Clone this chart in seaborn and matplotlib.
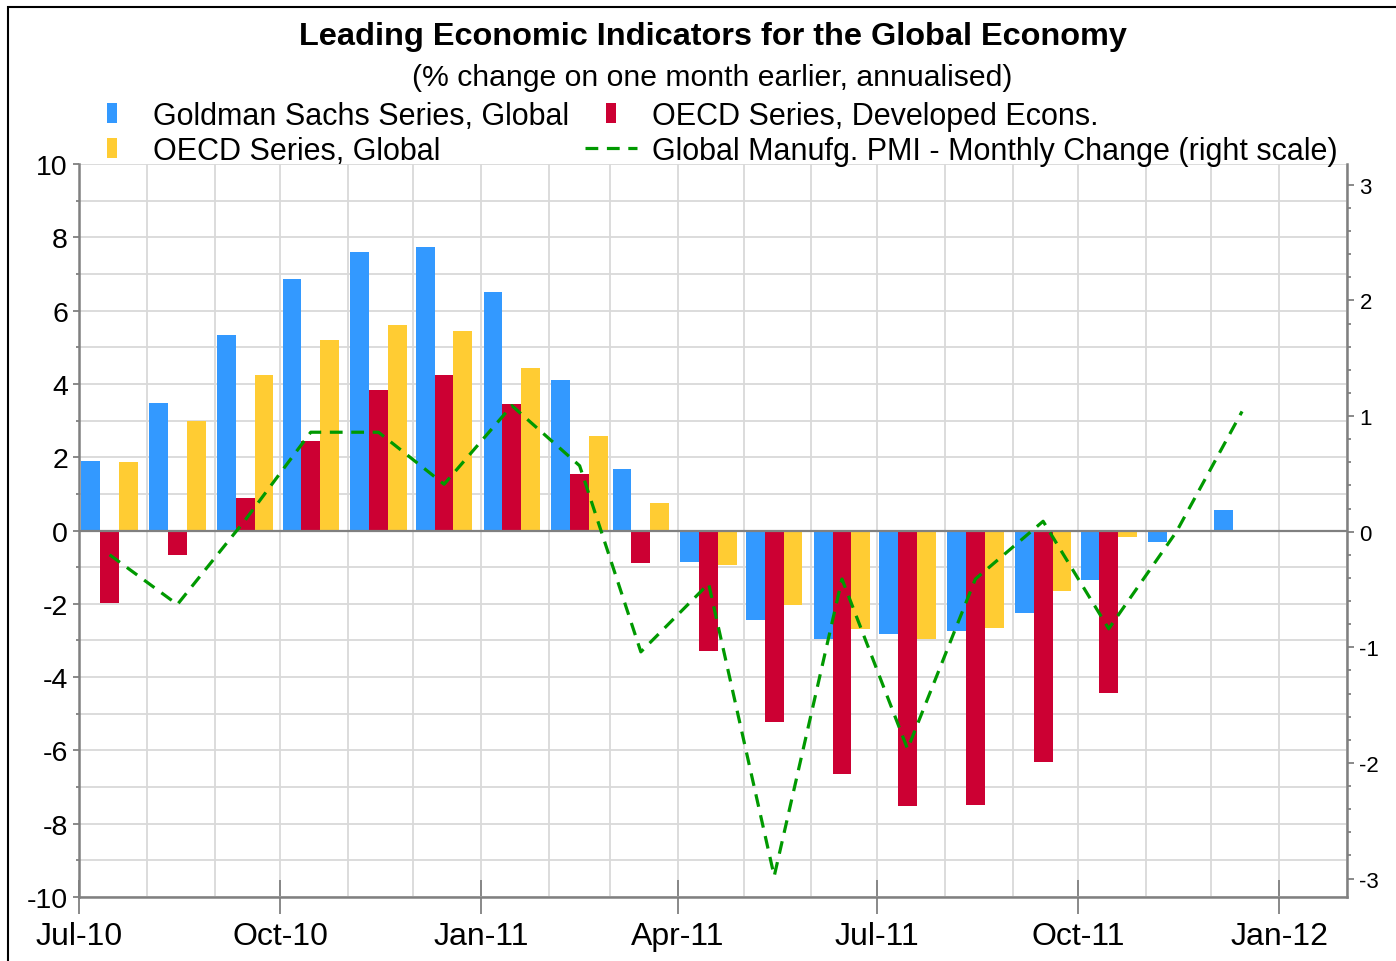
import matplotlib
matplotlib.use("Agg")
import matplotlib.pyplot as plt
import matplotlib.dates as mdates
from matplotlib.lines import Line2D
from matplotlib.patches import Rectangle
from matplotlib.path import Path
from matplotlib.ticker import MultipleLocator
import numpy as np
import pandas as pd
import seaborn as sns

# --- data ---
months = ["2010-07", "2010-08", "2010-09", "2010-10", "2010-11", "2010-12",
          "2011-01", "2011-02", "2011-03", "2011-04", "2011-05", "2011-06",
          "2011-07", "2011-08", "2011-09", "2011-10", "2011-11", "2011-12"]
gs_global = [1.89, 3.48, 5.33, 6.87, 7.59, 7.73, 6.50, 4.11, 1.68, -0.85, -2.45, -2.95,
             -2.82, -2.74, -2.24, -1.36, -0.31, 0.55]
oecd_dev = [-1.99, -0.67, 0.89, 2.44, 3.82, 4.24, 3.46, 1.53, -0.90, -3.29, -5.22, -6.65,
            -7.53, -7.49, -6.32, -4.43, np.nan, np.nan]
oecd_global = [1.87, 3.00, 4.24, 5.21, 5.62, 5.45, 4.44, 2.57, 0.76, -0.94, -2.03, -2.70,
               -2.95, -2.65, -1.65, -0.18, np.nan, np.nan]
pmi_change = [-0.20, -0.63, 0.10, 0.86, 0.86, 0.41, 1.09, 0.57, -1.04, -0.45, -2.98, -0.41,
              -1.88, -0.41, 0.09, -0.84, 0.00, 1.04]

series_names = ["Goldman Sachs Series, Global", "OECD Series, Developed Econs.", "OECD Series, Global"]
colors = ["#3399FF", "#CC0033", "#FFCC33"]
green = "#009900"

dates = pd.to_datetime(months) + pd.Timedelta(days=14)
xnum = mdates.date2num(dates)

df = pd.DataFrame({
    "x": np.tile(xnum, 3),
    "value": gs_global + oecd_dev + oecd_global,
    "series": np.repeat(series_names, len(months)),
})

sns.set_theme(style="white")
plt.rcParams["font.family"] = ["Liberation Sans", "DejaVu Sans"]
plt.rcParams["axes.unicode_minus"] = False
plt.rcParams["text.color"] = "black"
plt.rcParams["xtick.labelcolor"] = "black"
plt.rcParams["ytick.labelcolor"] = "black"

fig = plt.figure(figsize=(13.96, 9.62), dpi=100)
ax = fig.add_axes([79 / 1396, 1 - 898 / 962, (1347 - 79) / 1396, (898 - 165) / 962])

sns.barplot(data=df, x="x", y="value", hue="series", hue_order=series_names,
            palette=colors, native_scale=True, width=0.92, dodge=True,
            errorbar=None, saturation=1, linewidth=0, legend=False, ax=ax)

ax.set_xlim(mdates.date2num(pd.Timestamp("2010-07-01")), mdates.date2num(pd.Timestamp("2012-02-01")))
ax.set_ylim(-10, 10)
ax.xaxis.set_major_locator(mdates.MonthLocator(bymonth=[1, 4, 7, 10]))
ax.xaxis.set_major_formatter(mdates.DateFormatter("%b-%y"))
ax.xaxis.set_minor_locator(mdates.MonthLocator())
ax.yaxis.set_major_locator(MultipleLocator(2))
ax.yaxis.set_minor_locator(MultipleLocator(1))
ax.set_axisbelow(True)
ax.grid(which="both", color="#d9d9d9", lw=1.3)
ax.axhline(0, color="#808080", lw=1.6, zorder=1.5)
ax.set_xlabel("")
ax.set_ylabel("")

gray = "#808080"
for s in ["left", "bottom"]:
    ax.spines[s].set_color(gray)
    ax.spines[s].set_linewidth(1.8)
ax.spines["top"].set_visible(False)
ax.spines["right"].set_visible(False)

ax.tick_params(axis="x", which="major", direction="inout", length=25, width=1.3,
               color=gray, labelsize=23, pad=5, bottom=True)
ax.tick_params(axis="x", which="minor", length=0)
ax.tick_params(axis="y", which="major", direction="out", length=4, width=1.3,
               color=gray, labelsize=20.5, pad=4, left=True)
ax.tick_params(axis="y", which="minor", direction="out", length=2, width=1.3,
               color=gray, left=True)

# PMI on the right scale
ax2 = ax.twinx()
sns.lineplot(x=xnum, y=pmi_change, ax=ax2, color=green, lw=2.3, dashes=False, zorder=5)
ax2.lines[0].set_dashes((4, 2.7))
ax2.set_ylim(-3.16, 3.18)
ax2.yaxis.set_major_locator(MultipleLocator(1))
ax2.yaxis.set_minor_locator(MultipleLocator(0.2))
ax2.tick_params(axis="y", which="major", direction="out", length=5, width=1.3,
                color=gray, labelsize=16, pad=4, right=True)
ax2.tick_params(axis="y", which="minor", direction="out", length=3, width=1.3,
                color=gray, right=True)
for s in ["left", "top", "bottom"]:
    ax2.spines[s].set_visible(False)
ax2.spines["right"].set_color(gray)
ax2.spines["right"].set_linewidth(1.8)
ax2.grid(False)
ax2.set_ylabel("")

# titles
fig.text(0.5104, 1 - 37 / 962, "Leading Economic Indicators for the Global Economy",
         ha="center", va="center", fontsize=23.4, fontweight="bold")
fig.text(0.5104, 1 - 78 / 962, "(% change on one month earlier, annualised)",
         ha="center", va="center", fontsize=21.7)

# legend
bar_marker = Path([(-0.25, -0.5), (0.25, -0.5), (0.25, 0.5), (-0.25, 0.5), (-0.25, -0.5)],
                  [Path.MOVETO, Path.LINETO, Path.LINETO, Path.LINETO, Path.CLOSEPOLY])


def bar_handle(c):
    return Line2D([], [], ls="none", marker=bar_marker, markersize=15,
                  markerfacecolor=c, markeredgewidth=0)


handles = [bar_handle(colors[0]), bar_handle(colors[2]), bar_handle(colors[1]),
           Line2D([], [], color=green, lw=2.3, dashes=(4, 2.7))]
labels = [series_names[0], series_names[2], series_names[1],
          "Global Manufg. PMI - Monthly Change (right scale)"]
fig.legend(handles, labels, loc="upper left", bbox_to_anchor=(86 / 1396, 1 - 102 / 962),
           ncol=2, frameon=False, fontsize=22, handlelength=1.7, handletextpad=0.5,
           columnspacing=0.52, labelspacing=0.15, borderpad=0, borderaxespad=0)

# outer frame
fig.patches.append(Rectangle((8 / 1396, -0.1), 1.2, 0.1 + 1 - 8 / 962, transform=fig.transFigure,
                             fill=False, ec="black", lw=1.5))

fig.savefig("out.png", dpi=100)
